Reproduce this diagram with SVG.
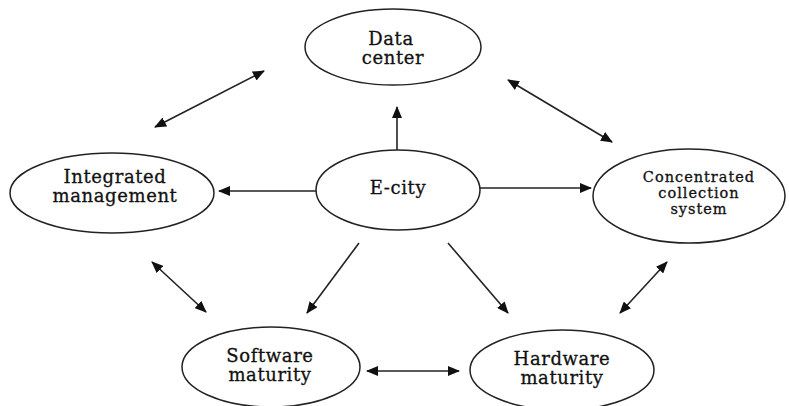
<svg xmlns="http://www.w3.org/2000/svg" width="789" height="406" viewBox="0 0 789 406">
<style>
.n ellipse{fill:#fff;stroke:#222;stroke-width:1.5}
.n text{font-family:"DejaVu Serif","Liberation Serif",serif;font-size:18px;letter-spacing:0.6px;fill:#111;text-anchor:middle;stroke:#111;stroke-width:0.3}
.n text.s{font-size:14.5px;letter-spacing:1px}
.c line{stroke:#222;stroke-width:1.6}
</style>
<defs>
<marker id="ah" viewBox="0 0 12 10" refX="11" refY="5" markerWidth="12" markerHeight="10" markerUnits="userSpaceOnUse" orient="auto-start-reverse">
<path d="M0,0 L12,5 L0,10 Z" fill="#111"/>
</marker>
</defs>
<rect width="789" height="406" fill="#fff"/>
<g id="connectors" class="c">
<line x1="397" y1="150" x2="397" y2="107" marker-end="url(#ah)"/>
<line x1="317" y1="191" x2="219" y2="191" marker-end="url(#ah)"/>
<line x1="480" y1="188" x2="591" y2="188" marker-end="url(#ah)"/>
<line x1="359" y1="243" x2="307" y2="313" marker-end="url(#ah)"/>
<line x1="448" y1="243" x2="508" y2="313" marker-end="url(#ah)"/>
<line x1="155" y1="127" x2="264" y2="71" marker-start="url(#ah)" marker-end="url(#ah)"/>
<line x1="508" y1="80" x2="612" y2="142" marker-start="url(#ah)" marker-end="url(#ah)"/>
<line x1="152" y1="262" x2="206" y2="312" marker-start="url(#ah)" marker-end="url(#ah)"/>
<line x1="667" y1="262" x2="620" y2="313" marker-start="url(#ah)" marker-end="url(#ah)"/>
<line x1="367" y1="371" x2="459" y2="371" marker-start="url(#ah)" marker-end="url(#ah)"/>
</g>
<g id="data-center" class="n">
<ellipse cx="393" cy="47" rx="88" ry="38"/>
<text x="391" y="45">Data</text>
<text x="393" y="64">center</text>
</g>
<g id="integrated-management" class="n">
<ellipse cx="112" cy="193" rx="102" ry="40"/>
<text x="115" y="183">Integrated</text>
<text x="115" y="202">management</text>
</g>
<g id="e-city" class="n">
<ellipse cx="398" cy="190" rx="82" ry="40"/>
<text x="398" y="194">E-city</text>
</g>
<g id="concentrated-collection-system" class="n">
<ellipse cx="689" cy="196" rx="96" ry="47"/>
<text class="s" x="699" y="182">Concentrated</text>
<text class="s" x="699" y="198">collection</text>
<text class="s" x="699" y="214">system</text>
</g>
<g id="software-maturity" class="n">
<ellipse cx="271" cy="367" rx="89" ry="40"/>
<text x="270" y="362">Software</text>
<text x="270" y="381">maturity</text>
</g>
<g id="hardware-maturity" class="n">
<ellipse cx="562" cy="370" rx="92" ry="40"/>
<text x="562" y="365">Hardware</text>
<text x="562" y="384">maturity</text>
</g>
</svg>
